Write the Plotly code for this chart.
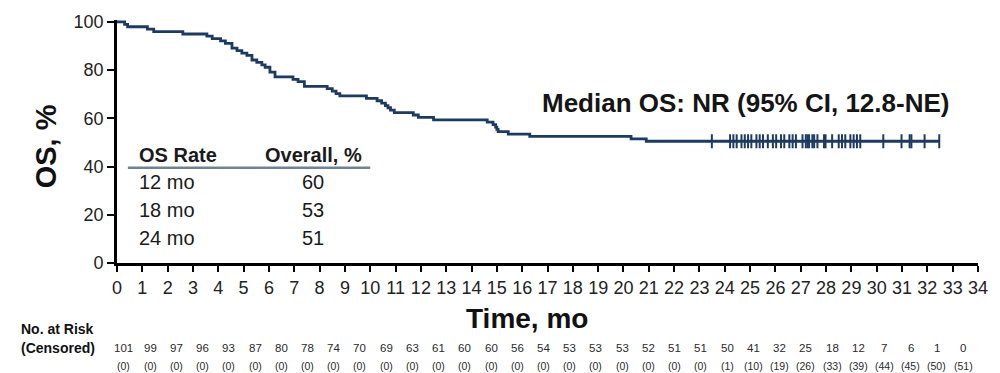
import plotly.graph_objects as go

# Kaplan-Meier overall survival: times (months) at which the curve steps down, and the new OS %
step_months = [0.30, 0.42, 1.20, 1.45, 2.60, 3.55, 3.76, 4.09, 4.28, 4.54, 4.74, 4.93, 5.13,
               5.33, 5.52, 5.72, 5.85, 6.04, 6.24, 6.95, 7.15, 7.40, 8.30, 8.50, 8.65, 8.80,
               9.85, 10.27, 10.45, 10.60, 10.70, 10.80, 10.95, 11.70, 11.90, 12.50, 14.62,
               14.85, 14.95, 15.00, 15.05, 15.45, 16.30, 20.30, 20.90]
step_surv = [99.0, 98.0, 97.0, 96.0, 95.0, 94.1, 93.1, 92.1, 91.1, 89.1, 88.1, 87.1, 86.1,
             84.2, 83.2, 82.2, 81.2, 79.2, 77.2, 76.2, 75.2, 73.3, 72.3, 71.3, 70.3, 69.3,
             68.3, 67.3, 66.3, 65.3, 64.4, 63.4, 62.4, 61.4, 60.4, 59.4, 58.4,
             57.4, 56.4, 55.4, 54.5, 53.5, 52.5, 51.5, 50.5]
last_followup = 32.47

# Censoring times (months)
censor_months = [23.49, 24.21, 24.34, 24.47, 24.66, 24.79, 24.92, 25.05, 25.25, 25.38, 25.51,
                 25.70, 25.90, 26.03, 26.22, 26.35, 26.55, 26.68, 26.81, 27.07, 27.20, 27.27,
                 27.33, 27.46, 27.53, 27.66, 27.92, 27.98, 28.24, 28.50, 28.63, 28.76, 28.96,
                 29.09, 29.22, 29.35, 30.26, 30.98, 31.30, 31.37, 31.89, 32.47]

# Landmark OS rates
rate_labels = ["12 mo", "18 mo", "24 mo"]
rate_values = [60, 53, 51]

# Number at risk (censored) by month
at_risk = [101, 99, 97, 96, 93, 87, 80, 78, 74, 70, 69, 63, 61, 60, 60, 56, 54, 53, 53, 53,
           52, 51, 51, 50, 41, 32, 25, 18, 12, 7, 6, 1, 0]
n_censored = [0, 0, 0, 0, 0, 0, 0, 0, 0, 0, 0, 0, 0, 0, 0, 0, 0, 0, 0, 0, 0, 0, 0,
              1, 10, 19, 26, 33, 39, 44, 45, 50, 51]

x_ticks = list(range(0, 35))
y_ticks = [0, 20, 40, 60, 80, 100]

NAVY = "#1d3a62"
FONT = "Arial, Liberation Sans, sans-serif"

curve_x = [0] + step_months + [last_followup]
curve_y = [100] + step_surv + [step_surv[-1]]

def surv_at(t):
    s = 100
    for m, v in zip(step_months, step_surv):
        if m <= t:
            s = v
    return s

fig = go.Figure()
fig.add_trace(go.Scatter(
    x=curve_x, y=curve_y, mode="lines", line=dict(color=NAVY, width=2.8, shape="hv"),
    showlegend=False, hoverinfo="skip"))
fig.add_trace(go.Scatter(
    x=censor_months, y=[surv_at(t) for t in censor_months], mode="markers",
    marker=dict(symbol="line-ns", size=10, line=dict(color=NAVY, width=2)),
    showlegend=False, hoverinfo="skip", cliponaxis=False))
# helper axis for the at-risk table columns
fig.add_trace(go.Scatter(
    x=list(range(len(at_risk))), y=[None] * len(at_risk), xaxis="x2", mode="markers",
    showlegend=False, hoverinfo="skip"))

ann = []
# Median annotation
ann.append(dict(x=24.8, y=66.5, xref="x", yref="y", text="<b>Median OS: NR (95% CI, 12.8-NE)</b>",
                showarrow=False, font=dict(size=26, color="#151515", family=FONT)))
# OS rate table
ann.append(dict(x=0.78, y=44.7, xref="x", yref="y", xanchor="left", text="<b>OS Rate</b>",
                showarrow=False, font=dict(size=20, color="#1a1a1a", family=FONT)))
ann.append(dict(x=7.75, y=44.7, xref="x", yref="y", xanchor="center", text="<b>Overall, %</b>",
                showarrow=False, font=dict(size=20, color="#1a1a1a", family=FONT)))
for i, (lab, val) in enumerate(zip(rate_labels, rate_values)):
    yy = 33.7 - i * 11.65
    ann.append(dict(x=0.78, y=yy, xref="x", yref="y", xanchor="left", text=lab,
                    showarrow=False, font=dict(size=20, color="#1a1a1a", family=FONT)))
    ann.append(dict(x=7.75, y=yy, xref="x", yref="y", xanchor="center", text=str(val),
                    showarrow=False, font=dict(size=20, color="#1a1a1a", family=FONT)))
# Axis titles
ann.append(dict(x=16.2, y=0, xref="x", yref="paper", yshift=-55, yanchor="middle",
                text="<b>Time, mo</b>", showarrow=False,
                font=dict(size=28, color="#111", family=FONT)))
ann.append(dict(x=0, y=0.48, xref="paper", yref="paper", xshift=-71, xanchor="center",
                yanchor="middle", textangle=-90, text="<b>OS, %</b>", showarrow=False,
                font=dict(size=29, color="#111", family=FONT)))
# At-risk table
ann.append(dict(x=0, y=0, xref="paper", yref="paper", xshift=-21, yshift=-65.5,
                xanchor="right", yanchor="middle", text="<b>No. at Risk</b>", showarrow=False,
                font=dict(size=14, color="#111", family=FONT)))
ann.append(dict(x=0, y=0, xref="paper", yref="paper", xshift=-20, yshift=-84.5,
                xanchor="right", yanchor="middle", text="<b>(Censored)</b>", showarrow=False,
                font=dict(size=14, color="#111", family=FONT)))
for i, (n, c) in enumerate(zip(at_risk, n_censored)):
    ann.append(dict(x=i, y=0, xref="x2", yref="paper", yshift=-84.5, yanchor="middle",
                    text=str(n), showarrow=False,
                    font=dict(size=11.5, color="#2a2a2a", family=FONT)))
    ann.append(dict(x=i, y=0, xref="x2", yref="paper", yshift=-102.5, yanchor="middle",
                    text="(%d)" % c, showarrow=False,
                    font=dict(size=10.5, color="#2a2a2a", family=FONT)))

fig.update_layout(
    width=1000, height=373,
    margin=dict(l=117, r=13, t=19, b=110),
    paper_bgcolor="white", plot_bgcolor="white",
    annotations=ann,
    shapes=[dict(type="line", xref="x", yref="y", x0=0.43, x1=10.0, y0=39.5, y1=39.5,
                 line=dict(color="#6f8398", width=2.5))],
    xaxis=dict(range=[0, 34], tickmode="array", tickvals=x_ticks,
               ticktext=[str(t) for t in x_ticks], showgrid=False, zeroline=False,
               showline=True, linecolor="black", linewidth=2.8, ticks="outside",
               ticklen=6, tickwidth=2, tickcolor="black",
               tickfont=dict(size=18, color="#222", family=FONT)),
    xaxis2=dict(overlaying="x", anchor="y", range=[-0.264, 32.566], visible=False),
    yaxis=dict(range=[0, 100.8], tickmode="array", tickvals=y_ticks, showgrid=False,
               zeroline=False, showline=True, linecolor="black", linewidth=2.8,
               ticks="outside", ticklen=7, tickwidth=2, tickcolor="black",
               tickfont=dict(size=18, color="#222", family=FONT)),
)

fig.write_html("out.html")
